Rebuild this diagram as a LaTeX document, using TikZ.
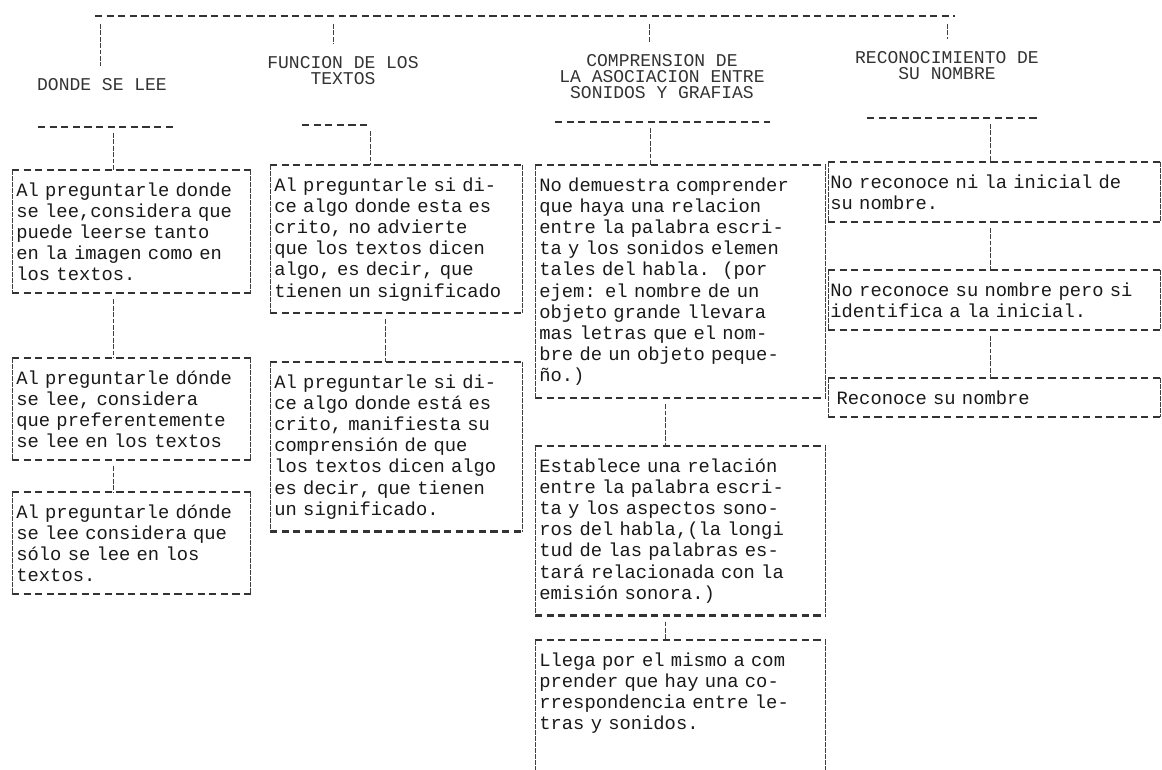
\documentclass[tikz,border=0pt]{standalone}
\usepackage{fontspec}
\newfontfamily\typewriter{Liberation Mono}
\usetikzlibrary{positioning}

\begin{document}
\begin{tikzpicture}[
  x=0.5pt,y=-0.5pt,
  rule/.style={draw=black!80, line width=1.05pt, dash pattern=on 3.6pt off 2.2pt},
  side/.style={draw=black!75, line width=0.5pt, dash pattern=on 2.4pt off 0.6pt},
  link/.style={draw=black!75, line width=0.5pt, dash pattern=on 2.4pt off 0.8pt},
  card/.style={anchor=north west, align=left, inner xsep=2pt, inner ysep=6pt, text=black!90,
    font=\typewriter\fontsize{9.4}{10.6}\selectfont},
  head/.style={align=center, text=black!80, font=\typewriter\fontsize{9}{8}\selectfont}
]
\useasboundingbox (0,0) rectangle (1162,770);
\clip (0,0) rectangle (1162,770);
\coordinate (floor) at (0,770);

% heading row
\node[head] (h1) at (102,85) {DONDE SE LEE};
\node[head] (h2) at (343,71) {FUNCION DE LOS\\TEXTOS};
\node[head] (h3) at (662,77) {COMPRENSION DE\\LA ASOCIACION ENTRE\\SONIDOS Y GRAFIAS};
\node[head] (h4) at (947,66) {RECONOCIMIENTO DE\\SU NOMBRE};

\coordinate (t0) at (95,16);
\coordinate (t1) at (955,16);
\coordinate (s1) at (100,16);
\coordinate (s2) at (333,16);
\coordinate (s3) at (649,16);
\coordinate (s4) at (947,16);
\draw[rule] (t0) -- (t1);
\foreach \s/\h in {s1/h1,s2/h2,s3/h3,s4/h4}
  \draw[link, shorten <=4pt, shorten >=3pt] (\s) -- (\s |- \h.north);

% underlines below the headings
\coordinate (u1w) at (38,127);  \coordinate (u1e) at (173,127);
\coordinate (u2w) at (302,125); \coordinate (u2e) at (368,125);
\coordinate (u3w) at (555,122); \coordinate (u3e) at (770,122);
\coordinate (u4w) at (867,118); \coordinate (u4e) at (1037,118);
\foreach \w/\e in {u1w/u1e,u2w/u2e,u3w/u3e,u4w/u4e}
  \draw[rule] (\w) -- (\e);

% first column
\node[card, text width=115pt] (a1) at (12,170) {Al preguntarle donde\\se lee,considera que\\puede leerse tanto\\en la imagen como en\\los textos.};
\node[card, text width=115pt] (a2) at (12,358) {Al preguntarle dónde\\se lee, considera\\que preferentemente\\se lee en los textos};
\node[card, text width=115pt] (a3) at (12,492) {Al preguntarle dónde\\se lee considera que\\sólo se lee en los\\textos.};

% second column
\node[card, text width=122pt] (b1) at (270,165) {Al preguntarle si di-\\ce algo donde esta es\\crito, no advierte\\que los textos dicen\\algo, es decir, que\\tienen un significado};
\node[card, text width=122pt] (b2) at (270,362) {Al preguntarle si di-\\ce algo donde está es\\crito, manifiesta su\\comprensión de que\\los textos dicen algo\\es decir, que tienen\\un significado.};

% third column
\node[card, text width=141pt] (c1) at (535,165) {No demuestra comprender\\que haya una relacion\\entre la palabra escri-\\ta y los sonidos elemen\\tales del habla.\ \ (por\\ejem: el nombre de un\\objeto grande llevara\\mas letras que el nom-\\bre de un objeto peque-\\ño.)};
\node[card, text width=141pt] (c2) at (535,446) {Establece una relación\\entre la palabra escri-\\ta y los aspectos sono-\\ros del habla,(la longi\\tud de las palabras es-\\tará relacionada con la\\emisión sonora.)};
\node[card, text width=141pt] (c3) at (535,640) {Llega por el mismo a com\\prender que hay una co-\\rrespondencia entre le-\\tras y sonidos.};

% fourth column
\node[card, text width=164pt, inner xsep=1pt] (d1) at (828,162) {No reconoce ni la inicial de\\su nombre.};
\node[card, text width=164pt, inner xsep=1pt] (d2) at (828,270) {No reconoce su nombre pero si\\identifica a la inicial.};
\node[card, text width=164pt, inner xsep=1pt] (d3) at (828,378) {\ Reconoce su nombre};

% box outlines
\foreach \n in {a1,a2,a3,b1,b2,c1,c2,d1,d2,d3} {
  \draw[rule] (\n.north west) -- (\n.north east) (\n.south west) -- (\n.south east);
  \draw[side] (\n.north west) -- (\n.south west) (\n.north east) -- (\n.south east);
}
\draw[rule] (c3.north west) -- (c3.north east);
\draw[side] (c3.north west) -- (c3.north west |- floor) (c3.north east) -- (c3.north east |- floor);

% connectors
\coordinate (j1) at (113,127);
\coordinate (j2) at (370,125);
\coordinate (j3) at (650,122);
\coordinate (j4) at (990,118);
\coordinate (k2) at (385,0);
\coordinate (k3) at (665,0);
\foreach \j/\n in {j1/a1,j2/b1,j3/c1,j4/d1}
  \draw[link, shorten <=3pt] (\j) -- (\j |- \n.north);
\foreach \j/\p/\n in {j1/a1/a2,j1/a2/a3,k2/b1/b2,k3/c1/c2,k3/c2/c3,j4/d1/d2,j4/d2/d3}
  \draw[link, shorten <=3pt] (\p.south -| \j) -- (\n.north -| \j);
\end{tikzpicture}
\end{document}
